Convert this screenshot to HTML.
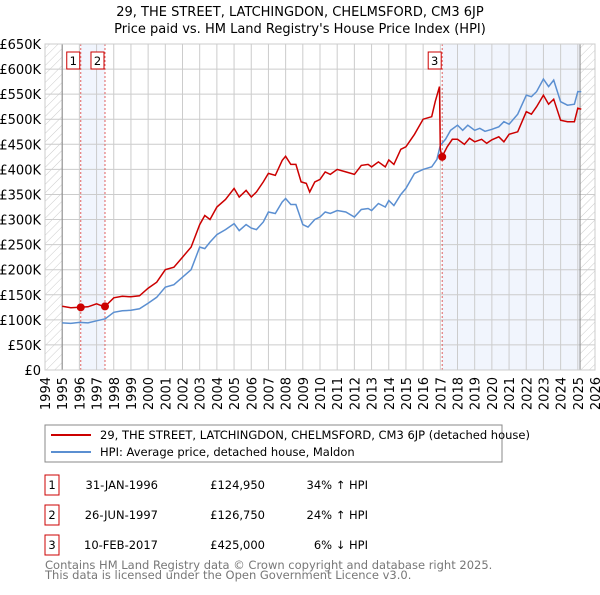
<!DOCTYPE html>
<html><head><meta charset="utf-8"><style>
body{margin:0;background:#fff;font-family:"Liberation Sans","DejaVu Sans",sans-serif;}
svg text{font-family:"DejaVu Sans","Liberation Sans",sans-serif;}
</style></head><body>
<svg id="chart" width="600" height="590" xmlns="http://www.w3.org/2000/svg">
<defs><pattern id="hatch" patternUnits="userSpaceOnUse" width="6" height="6" patternTransform="rotate(45)"><line x1="0" y1="0" x2="0" y2="6" stroke="#ccc" stroke-width="1"/></pattern></defs>
<text x="300" y="16" text-anchor="middle" font-size="13">29, THE STREET, LATCHINGDON, CHELMSFORD, CM3 6JP</text>
<text x="300" y="33" text-anchor="middle" font-size="13">Price paid vs. HM Land Registry's House Price Index (HPI)</text>
<g id="plot"></g>
<g>
<rect x="45" y="425" width="457" height="37" fill="#fff" stroke="#888"/>
<line x1="51" y1="435" x2="91" y2="435" stroke="#cc0000" stroke-width="2"/>
<text x="100" y="439" font-size="11.5">29, THE STREET, LATCHINGDON, CHELMSFORD, CM3 6JP (detached house)</text>
<line x1="51" y1="452" x2="91" y2="452" stroke="#5b8fd1" stroke-width="2"/>
<text x="100" y="456" font-size="11.5">HPI: Average price, detached house, Maldon</text>
</g>
<g id="table" font-size="11.5"></g>
<text x="45" y="569" font-size="11.5" fill="#777">Contains HM Land Registry data © Crown copyright and database right 2025.</text>
<text x="45" y="579" font-size="11.5" fill="#777">This data is licensed under the Open Government Licence v3.0.</text>
</svg>
<script>
const hpiYears=[1995,1995.5,1996,1996.5,1997,1997.5,1998,1998.5,1999,1999.5,2000,2000.5,2001,2001.5,2002,2002.5,2003,2003.3,2003.6,2004,2004.5,2005,2005.3,2005.7,2006,2006.3,2006.7,2007,2007.4,2007.8,2008,2008.3,2008.6,2009,2009.3,2009.7,2010,2010.3,2010.6,2011,2011.5,2012,2012.4,2012.8,2013,2013.4,2013.8,2014,2014.3,2014.7,2015,2015.5,2016,2016.5,2016.8,2017,2017.3,2017.6,2018,2018.3,2018.6,2019,2019.3,2019.6,2020,2020.4,2020.7,2021,2021.5,2022,2022.3,2022.6,2023,2023.3,2023.6,2024,2024.4,2024.8,2025,2025.2];
const hpiValues=[94,93,95,94,98,102,115,118,119,122,133,145,165,170,185,200,245,242,255,270,280,292,278,290,283,280,295,315,312,335,342,330,330,290,285,300,305,315,312,318,315,305,320,322,318,332,325,338,328,350,362,392,400,405,420,448,460,478,488,478,488,478,482,476,480,485,495,490,510,548,545,555,580,565,578,535,528,530,555,555];
const priceYears=[1995,1995.5,1996,1996.5,1997,1997.3,1997.5,1998,1998.5,1999,1999.5,2000,2000.5,2001,2001.5,2002,2002.5,2003,2003.3,2003.6,2004,2004.5,2005,2005.3,2005.7,2006,2006.3,2006.7,2007,2007.4,2007.8,2008,2008.3,2008.6,2008.9,2009.2,2009.4,2009.7,2010,2010.3,2010.6,2011,2011.5,2012,2012.4,2012.8,2013,2013.4,2013.8,2014,2014.3,2014.7,2015,2015.5,2016,2016.5,2016.7,2016.95,2017.0,2017.1,2017.4,2017.7,2018,2018.4,2018.7,2019,2019.4,2019.7,2020,2020.4,2020.7,2021,2021.5,2022,2022.3,2022.6,2023,2023.3,2023.6,2024,2024.4,2024.8,2025,2025.2];
const priceValues=[127,124,125,126,132,128,127,144,147,146,148,163,175,200,205,225,245,290,308,300,325,340,362,345,358,345,355,375,392,388,418,426,410,410,375,372,355,375,380,395,390,400,395,390,408,410,405,415,405,419,410,440,445,470,500,505,535,565,440,425,445,460,460,450,462,455,460,452,459,465,455,470,475,515,510,525,548,530,540,498,495,495,522,520];
const saleYears=[1996.08,1997.49,2017.11];
const saleValues=[124.95,126.75,425];
const saleLabels=["1","2","3"];
const saleDates=["31-JAN-1996","26-JUN-1997","10-FEB-2017"];
const salePrices=["£124,950","£126,750","£425,000"];
const saleDiffs=["34% \u2191 HPI","24% \u2191 HPI","6% \u2193 HPI"];
const yTicks=[0,50,100,150,200,250,300,350,400,450,500,550,600,650];
const yTickLabels=["£0","£50K","£100K","£150K","£200K","£250K","£300K","£350K","£400K","£450K","£500K","£550K","£600K","£650K"];
const xTicks=[1994,1995,1996,1997,1998,1999,2000,2001,2002,2003,2004,2005,2006,2007,2008,2009,2010,2011,2012,2013,2014,2015,2016,2017,2018,2019,2020,2021,2022,2023,2024,2025,2026];

const NS="http://www.w3.org/2000/svg";
const X0=45,X1=595,Y0=370,Y1=44;
function xs(y){return X0+(y-1994)*(X1-X0)/32;}
function ys(v){return Y0-v*(Y0-Y1)/650;}
const plot=document.getElementById('plot');
function mk(tag,attrs,parent){const e=document.createElementNS(NS,tag);for(const k in attrs)e.setAttribute(k,attrs[k]);(parent||plot).appendChild(e);return e;}

let r=mk('rect',{x:X0,y:Y1,width:X1-X0,height:Y0-Y1,fill:'#fff'});


let hl=mk('rect',{x:X0,y:Y1,width:xs(1995)-X0,height:Y0-Y1,fill:'url(#hatch)'});


let hr=mk('rect',{x:xs(2025.13),y:Y1,width:X1-xs(2025.13),height:Y0-Y1,fill:'url(#hatch)'});


let s1=mk('rect',{x:xs(saleYears[0]),y:Y1,width:xs(saleYears[1])-xs(saleYears[0]),height:Y0-Y1,fill:'#eef3fc',opacity:0.8});


let s2=mk('rect',{x:xs(saleYears[2]),y:Y1,width:xs(2025.13)-xs(saleYears[2]),height:Y0-Y1,fill:'#eef3fc',opacity:0.8});



yTicks.forEach((v,i)=>{
  let g=mk('line',{x1:X0,x2:X1,y1:ys(v),y2:ys(v),stroke:'#ccc','stroke-width':1});
  
  
  let t=mk('text',{x:41,y:ys(v)+5,'text-anchor':'end','font-size':13});
  
  
  t.textContent=yTickLabels[i];
});
xTicks.forEach(yr=>{
  let g=mk('line',{x1:xs(yr),x2:xs(yr),y1:Y1,y2:Y0,stroke:'#ccc','stroke-width':1});
  
  
  let t=mk('text',{x:0,y:0,'font-size':13,'text-anchor':'end',transform:`translate(${xs(yr)+5},377) rotate(-90)`});
  
  
  t.textContent=yr;
});
let b1=mk('line',{x1:xs(1995),x2:xs(1995),y1:Y1,y2:Y0,stroke:'#888'});


let b2=mk('line',{x1:xs(2025.13),x2:xs(2025.13),y1:Y1,y2:Y0,stroke:'#888'});



saleYears.forEach((yr,i)=>{
  let l=mk('line',{x1:xs(yr),x2:xs(yr),y1:Y1,y2:Y0,stroke:'#e06060','stroke-dasharray':'2,2'});
  
  
});
function pathOf(xa,va){return xa.map((y,i)=>(i?'L':'M')+xs(y).toFixed(1)+','+ys(va[i]).toFixed(1)).join('');}
let hp=mk('path',{d:pathOf(hpiYears,hpiValues),fill:'none',stroke:'#5b8fd1','stroke-width':1.5});


let pp=mk('path',{d:pathOf(priceYears,priceValues),fill:'none',stroke:'#cc0000','stroke-width':1.5});


saleYears.forEach((yr,i)=>{
  let c=mk('circle',{cx:xs(yr),cy:ys(saleValues[i]),r:4,fill:'#cc0000'});
  
  
  let bxr=mk('rect',{x:xs(yr)-14,y:52,width:13,height:17,fill:'#fff',stroke:'#cc0000'});
  
  
  let t=mk('text',{x:xs(yr)-7.5,y:65,'text-anchor':'middle','font-size':11.5});
  
  
  t.textContent=saleLabels[i];
});
let fr=mk('rect',{x:X0,y:Y1,width:X1-X0,height:Y0-Y1,fill:'none',stroke:'#ccc'});



const tbl=document.getElementById('table');
const rowY=[485,515,545];
saleLabels.forEach((lab,i)=>{
  let y=rowY[i];
  let bx=mk('rect',{x:45,y:y-10,width:14,height:20,fill:'#fff',stroke:'#cc0000'},tbl);
  
  
  let t0=mk('text',{x:52,y:y+4,'text-anchor':'middle'},tbl);
  
  
  t0.textContent=lab;
  let t1=mk('text',{x:158,y:y+4,'text-anchor':'end'},tbl);
  
  
  t1.textContent=saleDates[i];
  let t2=mk('text',{x:265,y:y+4,'text-anchor':'end'},tbl);
  
  
  t2.textContent=salePrices[i];
  let t3=mk('text',{x:368,y:y+4,'text-anchor':'end'},tbl);
  
  
  t3.textContent=saleDiffs[i];
});
</script>
</body></html>
